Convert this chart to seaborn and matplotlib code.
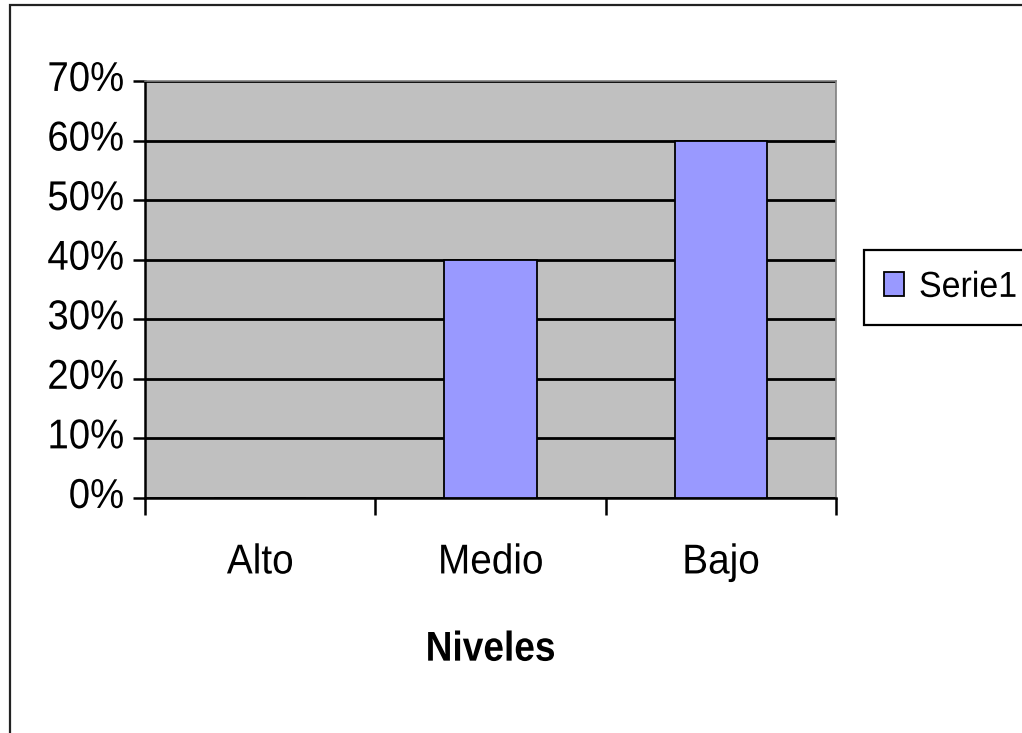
import matplotlib
matplotlib.use("Agg")
import matplotlib.pyplot as plt
import seaborn as sns
import pandas as pd
from matplotlib.patches import Rectangle
from matplotlib.patheffects import AbstractPathEffect
from matplotlib.transforms import Affine2D, ScaledTranslation
from matplotlib.ticker import FixedLocator, PercentFormatter

# data
niveles = ["Alto", "Medio", "Bajo"]
serie1 = [0.0, 0.40, 0.60]
y_ticks = [0, 0.1, 0.2, 0.3, 0.4, 0.5, 0.6, 0.7]

df = pd.DataFrame({"Niveles": niveles, "Serie1": serie1})


class Squeeze(AbstractPathEffect):
    # narrows text horizontally, the old Excel export looks condensed
    def __init__(self, sx=0.9, anchor="center"):
        super().__init__()
        self.sx = sx
        self.anchor = anchor

    def draw_path(self, renderer, gc, tpath, affine, rgbFace=None):
        ext = tpath.get_extents(affine)
        x0 = {"left": ext.x0, "center": (ext.x0 + ext.x1) / 2, "right": ext.x1}[self.anchor]
        t = affine + Affine2D().translate(-x0, 0).scale(self.sx, 1).translate(x0, 0)
        renderer.draw_path(gc, tpath, t, rgbFace)


sns.set_style("white")
plt.rcParams["font.family"] = ["Liberation Sans", "DejaVu Sans"]
plt.rcParams["text.color"] = "black"
plt.rcParams["xtick.color"] = "black"
plt.rcParams["ytick.color"] = "black"
plt.rcParams["axes.labelcolor"] = "black"

fig = plt.figure(figsize=(10.22, 7.33), dpi=100)
ax = fig.add_axes([145 / 1022, 1 - 498 / 733, (836 - 145) / 1022, (498 - 81) / 733])
ax.set_facecolor("#C0C0C0")

sns.barplot(data=df, x="Niveles", y="Serie1", color="#9999FF", width=0.4,
            edgecolor="black", linewidth=1.3, saturation=1, ax=ax, zorder=3)

ax.set_ylim(0, 0.7)
ax.set_xlim(-0.5, 2.5)
ax.set_yticks(y_ticks)
ax.yaxis.set_major_formatter(PercentFormatter(1.0, decimals=0))
ax.yaxis.grid(True, color="black", linewidth=2.0, zorder=1)
ax.set_axisbelow(True)

# ticks between categories, labels at centres
ax.xaxis.set_major_locator(FixedLocator([-0.5, 0.5, 1.5, 2.5]))
ax.xaxis.set_minor_locator(FixedLocator([0, 1, 2]))
ax.set_xticklabels([], minor=False)
ax.set_xticklabels(niveles, minor=True)
ax.tick_params(axis="x", which="major", direction="out", length=12,
               width=1.8, color="black", bottom=True)
ax.tick_params(axis="x", which="minor", length=0, pad=32, labelsize=30)
ax.tick_params(axis="y", direction="out", length=9, width=1.8,
               color="black", left=True, pad=6, labelsize=30)

for s in ["left", "bottom"]:
    ax.spines[s].set_color("black")
    ax.spines[s].set_linewidth(1.8)
for s in ["top", "right"]:
    ax.spines[s].set_color("#808080")
    ax.spines[s].set_linewidth(1.2)

ax.set_ylabel("")
ax.set_xlabel("Niveles", fontsize=30, fontweight="bold", labelpad=34)
ax.xaxis.label.set_path_effects([Squeeze(0.89, "center")])

# y labels sit a little above their gridline in the reference
up = ScaledTranslation(0, 4 / 72, fig.dpi_scale_trans)
for lab in ax.get_yticklabels():
    lab.set_transform(lab.get_transform() + up)
    lab.set_path_effects([Squeeze(0.92, "right")])
for lab in ax.get_xticklabels(minor=True):
    lab.set_path_effects([Squeeze(0.93, "center")])

leg = ax.legend(handles=[ax.containers[0]], labels=["Serie1"],
                loc="upper left", bbox_to_anchor=(864 / 1022, 1 - 250 / 733),
                bbox_transform=fig.transFigure, fontsize=26, frameon=True,
                fancybox=False, shadow=False, handlelength=0.55,
                handleheight=0.64, handletextpad=0.42, borderpad=0.55,
                borderaxespad=0)
leg.get_frame().set_edgecolor("black")
leg.get_frame().set_linewidth(1.6)
leg.get_frame().set_alpha(1)
for t in leg.get_texts():
    t.set_path_effects([Squeeze(0.94, "left")])

# outer chart frame (cut off at right and bottom)
fig.patches.append(Rectangle((10 / 1022, -0.05), 1.1, 1 - 5 / 733 + 0.05,
                             transform=fig.transFigure, fill=False,
                             edgecolor="#222222", linewidth=1.6))

fig.savefig("out.png", dpi=100)
